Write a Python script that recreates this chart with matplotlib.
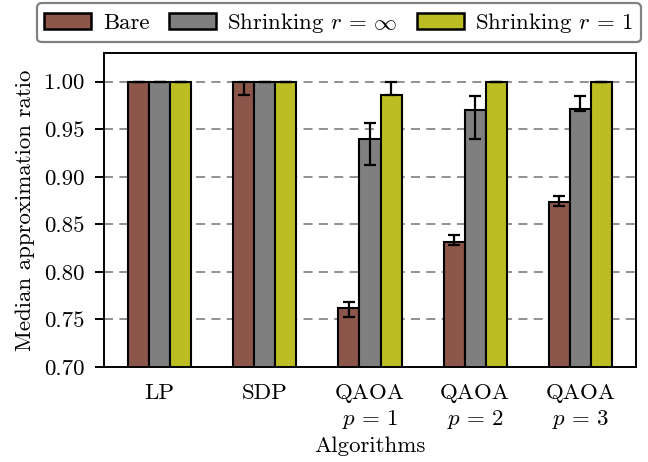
import matplotlib
matplotlib.use("Agg")
import matplotlib.pyplot as plt
import numpy as np

plt.rcParams['font.family'] = 'serif'
plt.rcParams['font.serif'] = ['cmr10']
plt.rcParams['mathtext.fontset'] = 'cm'
plt.rcParams['axes.unicode_minus'] = False
plt.rcParams['axes.formatter.use_mathtext'] = True

categories = ["LP", "SDP", "QAOA\n$p\\,=\\,1$", "QAOA\n$p\\,=\\,2$", "QAOA\n$p\\,=\\,3$"]
series_names = ["Bare", r"Shrinking $r\,=\,\infty$", r"Shrinking $r\,=\,1$"]
colors = ["#8c564b", "#7f7f7f", "#bcbd22"]

bare = [1.0, 1.0, 0.7616, 0.8316, 0.8736]
bare_lo = [0.0, 0.014, 0.0088, 0.0034, 0.0038]
bare_hi = [0.0, 0.0, 0.0067, 0.0074, 0.0060]

shrink_inf = [1.0, 1.0, 0.9395, 0.9703, 0.9710]
shrink_inf_lo = [0.0, 0.0, 0.0267, 0.0302, 0.0015]
shrink_inf_hi = [0.0, 0.0, 0.0168, 0.0150, 0.0143]

shrink_1 = [1.0, 1.0, 0.9857, 1.0, 1.0]
shrink_1_lo = [0.0, 0.0, 0.0, 0.0, 0.0]
shrink_1_hi = [0.0, 0.0, 0.0143, 0.0, 0.0]

yticks = [0.70, 0.75, 0.80, 0.85, 0.90, 0.95, 1.00]

values = [bare, shrink_inf, shrink_1]
lows = [bare_lo, shrink_inf_lo, shrink_1_lo]
highs = [bare_hi, shrink_inf_hi, shrink_1_hi]

fs = 16.5
fig = plt.figure(figsize=(6.48, 4.62), dpi=100)
ax = fig.add_axes([104/648, 1-367.0/462, (636-104)/648, (367.0-52.7)/462])

x = np.arange(len(categories))
w = 0.2
handles = []
for i in range(3):
    b = ax.bar(x + (i-1)*w, values[i], w, color=colors[i], edgecolor='black',
               linewidth=1.5, label=series_names[i],
               yerr=[lows[i], highs[i]],
               error_kw=dict(ecolor='black', elinewidth=1.6, capsize=4.5, capthick=1.6))
    handles.append(b)

ax.set_ylim(0.70, 1.0305)
ax.set_xlim(-0.53, 4.53)
ax.set_yticks(yticks)
ax.set_yticklabels([f"{v:.2f}" for v in yticks])
ax.set_xticks(x)
ax.set_xticklabels(categories, linespacing=1.3)
ax.tick_params(axis='both', labelsize=fs, length=6.8, width=1.4)
ax.tick_params(axis='y', pad=7.5)
ax.tick_params(axis='x', length=0, pad=12)
for s in ax.spines.values():
    s.set_linewidth(1.4)
ax.yaxis.grid(True, linestyle=(0, (5, 3.5)), color='#888888', linewidth=1.3)
ax.set_axisbelow(True)
ax.set_ylabel("Median approximation ratio", fontsize=fs, labelpad=6)
ax.set_xlabel("Algorithms", fontsize=fs, labelpad=4)

leg = fig.legend(handles=handles, labels=series_names, loc='center',
                 bbox_to_anchor=(339/648, 1-22.8/462), ncol=3, fontsize=fs,
                 frameon=True, fancybox=True, edgecolor='#808080',
                 handlelength=2.05, handleheight=0.73, columnspacing=0.85,
                 handletextpad=0.5, borderpad=0.32, borderaxespad=0.2)
leg.get_frame().set_linewidth(1.6)
leg.get_frame().set_alpha(1)
for h in leg.legend_handles:
    h.set_linewidth(1.8)

fig.savefig("out.png", dpi=100)
